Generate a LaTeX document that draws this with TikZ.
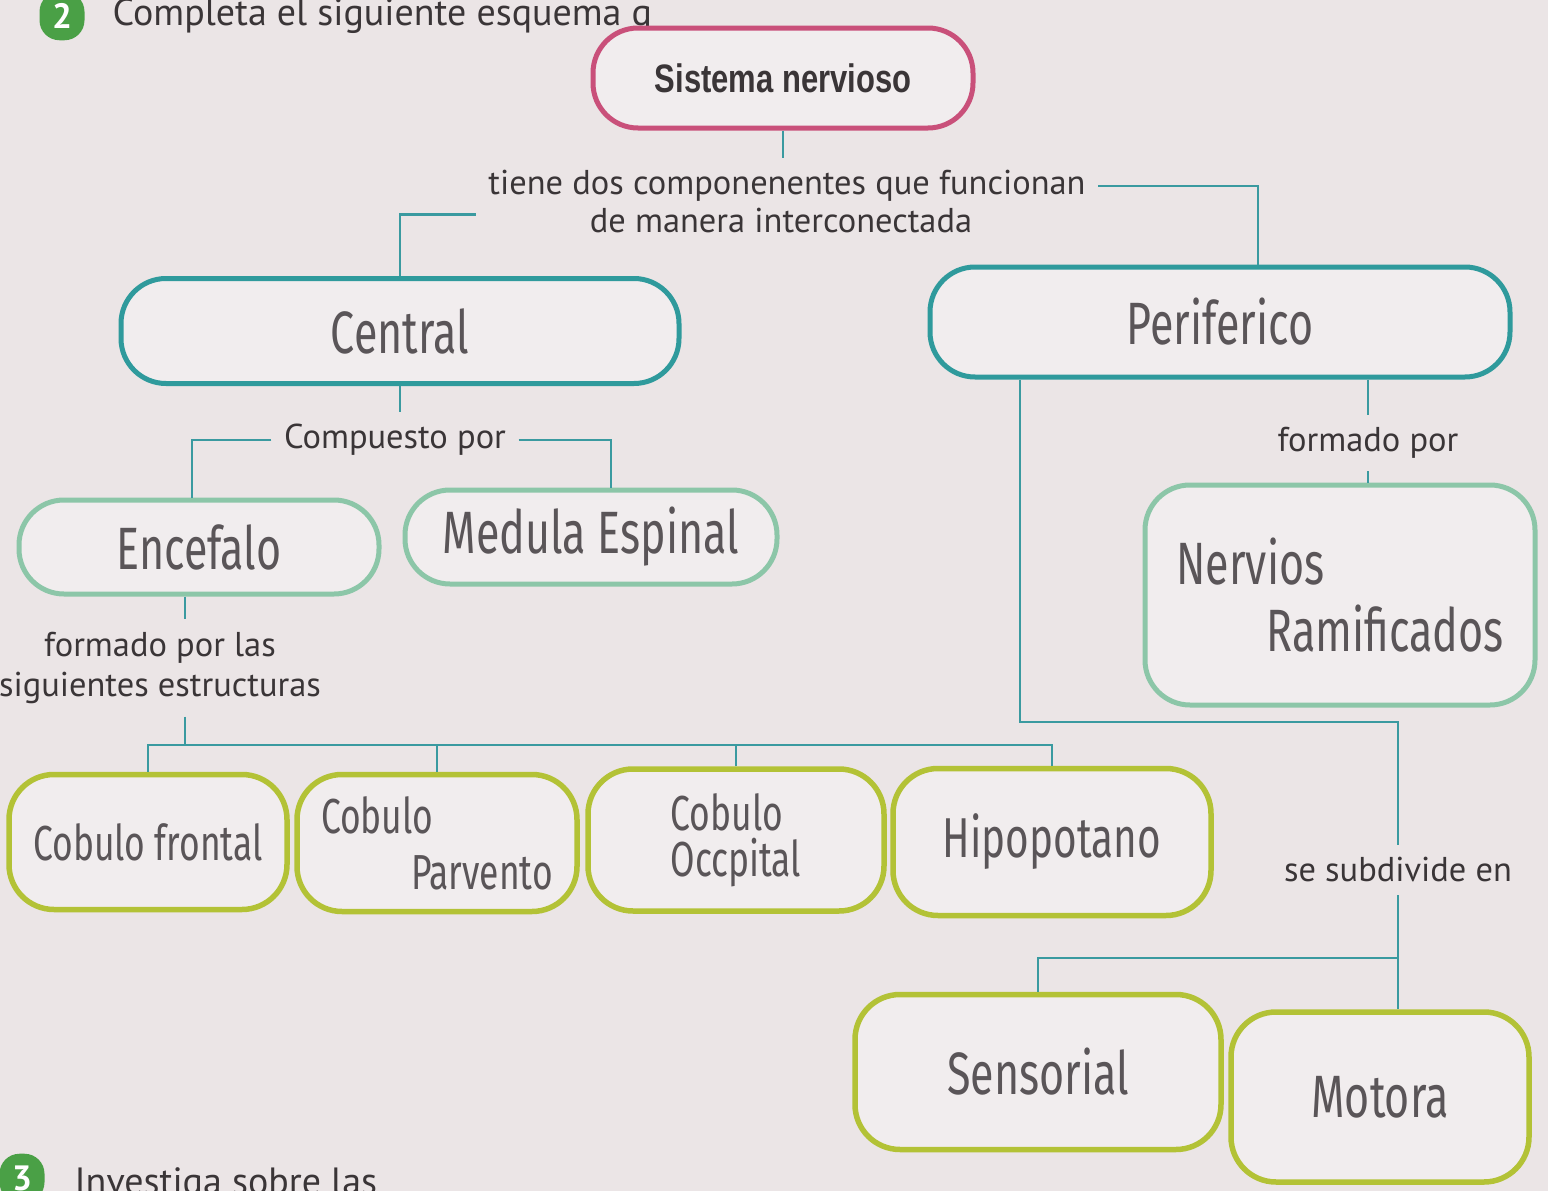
\documentclass[tikz,border=0pt]{standalone}
\usepackage{fontspec}
\setmainfont{PT Sans}
\newfontfamily\hand[FakeStretch=0.72]{Fira Sans}
\newfontfamily\snfont[FakeStretch=0.78]{Liberation Sans}
\usetikzlibrary{positioning}
\definecolor{paper}{HTML}{EBE5E6}
\definecolor{boxfill}{HTML}{F1EDEE}
\definecolor{snpink}{HTML}{C9507A}
\definecolor{mainteal}{HTML}{2F9A9C}
\definecolor{subsage}{HTML}{8CC6A8}
\definecolor{lobeolive}{HTML}{B3C236}
\definecolor{linkteal}{HTML}{3A9AA0}
\definecolor{ink}{HTML}{3A3537}
\definecolor{pencil}{HTML}{5A5558}
\definecolor{badgegreen}{HTML}{4AA046}
\tikzset{
  box/.style={draw, rounded corners=4.5mm, line width=0.5mm, fill=boxfill,
    inner sep=1mm, text=pencil, font=\hand\fontsize{17}{19}\selectfont},
  sysbox/.style={box, draw=snpink, minimum width=38mm, minimum height=10mm,
    text=ink, font=\snfont\bfseries\fontsize{11.3}{13}\selectfont},
  mainbox/.style={box, draw=mainteal, minimum height=10.5mm},
  subbox/.style={box, draw=subsage, minimum height=9.4mm},
  lobebox/.style={box, draw=lobeolive, line width=0.55mm,
    font=\hand\fontsize{14}{16}\selectfont},
  lbl/.style={text=ink, font=\fontsize{9.8}{11.5}\selectfont, inner sep=1.2mm},
  link/.style={draw=linkteal, line width=0.28mm},
  badge/.style={fill=badgegreen, rounded corners=2mm, text=white,
    minimum size=4.5mm, font=\bfseries\fontsize{10}{12}\selectfont}
}
\begin{document}
\begin{tikzpicture}[x=0.1mm, y=-0.1mm]
  \useasboundingbox (0,0) rectangle (1548,1191);
  \fill[paper] (0,0) rectangle (1548,1191);

  % page heading and next exercise
  \node[badge] (b2) at (62,16) {2};
  \node[lbl, anchor=base west, font=\fontsize{10.8}{12}\selectfont] (head) at (100,25) {Completa el siguiente esquema g};
  \node[badge] (b3) at (22,1178) {3};
  \node[lbl, anchor=base west, font=\fontsize{10.8}{12}\selectfont] (next) at (62,1194) {Investiga sobre las};

  % concepts
  \node[sysbox] (sn) at (783,78) {Sistema nervioso};
  \node[lbl] (dosA) at (787,186) {tiene dos componenentes que funcionan};
  \node[lbl] (dosB) at (781,221) {de manera interconectada};
  \node[mainbox, minimum width=55.8mm] (central) at (400,331) {Central};
  \node[mainbox, minimum width=58mm, minimum height=11mm] (perif) at (1220,322) {Periferico};
  \node[lbl] (comp) at (395,440) {Compuesto por};
  \node[subbox, minimum width=36mm] (encef) at (199,547) {Encefalo};
  \node[subbox, minimum width=37.2mm] (medula) at (591,537) {Medula Espinal};
  \node[lbl, align=center] (estr) at (160,668) {formado por las\\siguientes estructuras};
  \node[lbl] (fpor) at (1368,443) {formado por};
  \node[subbox, minimum width=39mm, minimum height=22mm, align=left] (nerv) at (1340,595) {Nervios\\\hspace*{9mm}Ramificados};
  \node[lobebox, minimum width=27.8mm, minimum height=13.5mm] (frontal) at (148,842) {Cobulo frontal};
  \node[lobebox, minimum width=28mm, minimum height=13.7mm, align=left] (parietal) at (437,843) {Cobulo\\\hspace*{9mm}Parvento};
  \node[lobebox, minimum width=29.6mm, minimum height=14.2mm, align=left] (occipital) at (736,840) {Cobulo\\[-1mm]Occpital};
  \node[lobebox, minimum width=31.8mm, minimum height=14.7mm, font=\hand\fontsize{16}{18}\selectfont] (hipo) at (1052,842) {Hipopotano};
  \node[lbl] (subd) at (1398,870) {se subdivide en};
  \node[lobebox, minimum width=36.6mm, minimum height=15.5mm, font=\hand\fontsize{17}{19}\selectfont] (sens) at (1038,1072) {Sensorial};
  \node[lobebox, minimum width=29.8mm, minimum height=17mm, font=\hand\fontsize{17}{19}\selectfont] (motora) at (1380,1097) {Motora};

  % connectors
  \coordinate (lbus) at (185,745);
  \coordinate (pbus) at (1020,722);
  \coordinate (sbus) at (1030,958);
  \draw[link] (sn.south) -- (sn.south |- dosA.north);
  \draw[link] (dosA.south west) -| (central.north);
  \draw[link] (dosA.east) -| ([xshift=3.8mm]perif.north);
  \draw[link] (central.south) -- (central.south |- comp.north);
  \draw[link] (comp.west) -| ([xshift=-0.7mm]encef.north);
  \draw[link] (comp.east) -| ([xshift=2mm]medula.north);
  \draw[link] (lbus |- encef.south) -- (lbus |- estr.north);
  \draw[link] (lbus |- estr.south) -- (lbus);
  \draw[link] (frontal.north) |- (hipo.north |- lbus) -- (hipo.north);
  \foreach \n in {parietal,occipital}
    \draw[link] (\n.north) -- (\n.north |- lbus);
  \draw[link] (fpor.north |- perif.south) -- (fpor.north);
  \draw[link] (fpor.south) -- (fpor.south |- nerv.north);
  \draw[link] (pbus |- perif.south) -- (pbus) -| (subd.north);
  \draw[link] (subd.south) -- (subd.south |- motora.north);
  \draw[link] (sens.north) -- (sens.north |- sbus) -- (subd.south |- sbus);
\end{tikzpicture}
\end{document}
